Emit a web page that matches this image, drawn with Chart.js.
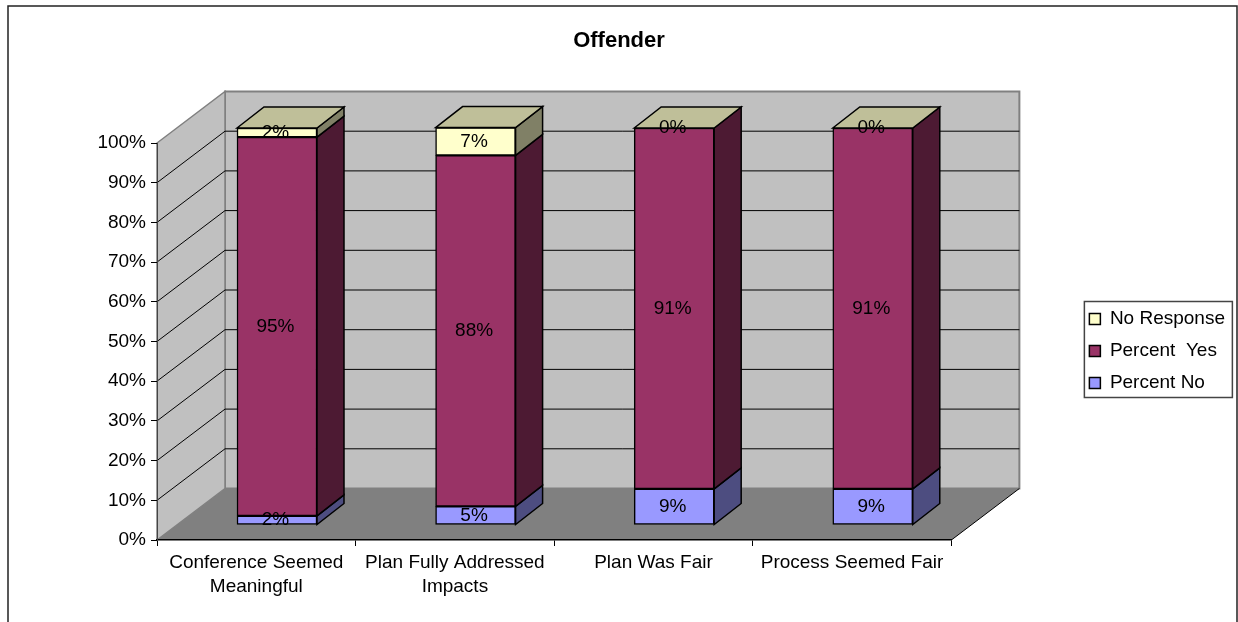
<!DOCTYPE html>
<html>
<head>
<meta charset="utf-8">
<title>Offender</title>
<script src="https://cdn.jsdelivr.net/npm/chart.js@4"></script>
<style>
    html, body { margin: 0; padding: 0; background: #fff; }
    canvas { display: block; }
</style>
</head>
<body>
<canvas id="chart" width="1238" height="622"></canvas>
<script>
const categories = [
    ['Conference Seemed', 'Meaningful'],
    ['Plan Fully Addressed', 'Impacts'],
    'Plan Was Fair',
    'Process Seemed Fair'
];
const percentNo = [2.3, 4.7, 9.1, 9.1];
const percentYes = [95.4, 88.4, 90.9, 90.9];
const noResponse = [2.3, 7.0, 0, 0];

const faceColors = ['#9999FF', '#993366', '#FFFFCC'];
const sideColors = ['#4D4D80', '#4D1A33', '#808066'];
const topColor = '#BFBF99';

const FONT = '"Liberation Sans", Arial, sans-serif';
const wallDepth = { x: 68, y: 51.5 };
const barShift = { x: 20.7, y: 15 };
const barDepth = { x: 27, y: 21 };

function poly(ctx, pts, fill, stroke, width) {
    ctx.beginPath();
    pts.forEach((p, i) => i ? ctx.lineTo(p[0], p[1]) : ctx.moveTo(p[0], p[1]));
    ctx.closePath();
    if (fill) {
        ctx.fillStyle = fill;
        ctx.fill();
    }
    if (stroke) {
        ctx.strokeStyle = stroke;
        ctx.lineWidth = width;
        ctx.stroke();
    }
}

const box3d = {
    id: 'box3d',
    afterLayout(chart) {
        // legend sits lower than the layout would put it
        const legend = chart.legend;
        legend.top += 40;
        legend.bottom += 40;
    },
    beforeDraw(chart) {
        const { ctx, chartArea: a, scales: { y } } = chart;
        const dx = wallDepth.x, dy = wallDepth.y;
        ctx.save();

        // outer frame, runs off the bottom of the picture
        ctx.beginPath();
        ctx.moveTo(8, 622);
        ctx.lineTo(8, 6);
        ctx.lineTo(1237, 6);
        ctx.lineTo(1237, 622);
        ctx.strokeStyle = '#222';
        ctx.lineWidth = 1.5;
        ctx.stroke();

        // back wall, side wall, floor
        poly(ctx, [[a.left + dx, a.top - dy], [a.right + dx, a.top - dy], [a.right + dx, a.bottom - dy], [a.left + dx, a.bottom - dy]], '#C0C0C0', '#808080', 2);
        poly(ctx, [[a.left, a.top], [a.left + dx, a.top - dy], [a.left + dx, a.bottom - dy], [a.left, a.bottom]], '#C0C0C0', '#808080', 1.5);
        poly(ctx, [[a.left, a.bottom], [a.left + dx, a.bottom - dy], [a.right + dx, a.bottom - dy], [a.right, a.bottom]], '#808080');

        ctx.beginPath();
        ctx.moveTo(a.right, a.bottom);
        ctx.lineTo(a.right + dx, a.bottom - dy);
        ctx.strokeStyle = '#000';
        ctx.lineWidth = 1;
        ctx.stroke();

        // gridlines run along the side wall and across the back
        y.ticks.forEach(t => {
            if (t.value === y.min || t.value === y.max) return;
            const py = y.getPixelForValue(t.value);
            ctx.beginPath();
            ctx.moveTo(a.left, py);
            ctx.lineTo(a.left + dx, py - dy);
            ctx.lineTo(a.right + dx, py - dy);
            ctx.strokeStyle = '#000';
            ctx.lineWidth = 1;
            ctx.stroke();
        });
        ctx.restore();
    },
    beforeDatasetsDraw(chart) {
        chart.ctx.save();
        chart.ctx.translate(barShift.x, -barShift.y);
    },
    afterDatasetsDraw(chart) {
        const ctx = chart.ctx;
        const dx = barDepth.x, dy = barDepth.y;
        const metas = chart.data.datasets.map((_, i) => chart.getDatasetMeta(i));

        metas.forEach((meta, d) => {
            meta.data.forEach(bar => {
                const right = bar.x + bar.width / 2;
                if (bar.base - bar.y > 0.1) {
                    poly(ctx, [[right, bar.y], [right + dx, bar.y - dy], [right + dx, bar.base - dy], [right, bar.base]], sideColors[d], '#000', 1.5);
                }
            });
        });

        // lid of each column
        metas[metas.length - 1].data.forEach(bar => {
            const left = bar.x - bar.width / 2;
            const right = bar.x + bar.width / 2;
            poly(ctx, [[left, bar.y], [left + dx, bar.y - dy], [right + dx, bar.y - dy], [right, bar.y]], topColor, '#000', 1.5);
        });

        // value labels
        ctx.fillStyle = '#000';
        ctx.font = '19px ' + FONT;
        ctx.textAlign = 'center';
        ctx.textBaseline = 'middle';
        metas.forEach((meta, d) => {
            meta.data.forEach((bar, i) => {
                const value = chart.data.datasets[d].data[i];
                ctx.fillText(Math.round(value) + '%', bar.x - 1.5, (bar.y + bar.base) / 2);
            });
        });
        ctx.restore();
    },
    afterDraw(chart) {
        // legend box
        const { ctx, legend } = chart;
        const hits = legend.legendHitBoxes;
        const last = hits[hits.length - 1];
        ctx.save();
        ctx.strokeStyle = '#444';
        ctx.lineWidth = 1.5;
        ctx.strokeRect(legend.left + 8, hits[0].top - 8, 148, last.top + last.height - hits[0].top + 13);
        ctx.restore();
    }
};

const ctx = document.getElementById('chart').getContext('2d');
new Chart(ctx, {
    type: 'bar',
    data: {
        labels: categories,
        datasets: [
            { label: 'Percent No', data: percentNo, backgroundColor: faceColors[0] },
            { label: 'Percent  Yes', data: percentYes, backgroundColor: faceColors[1] },
            { label: 'No Response', data: noResponse, backgroundColor: faceColors[2] }
        ]
    },
    options: {
        responsive: false,
        animation: false,
        layout: { padding: { left: 3, right: 3 } },
        datasets: {
            bar: {
                barThickness: 80,
                borderColor: '#000',
                borderWidth: 1.5,
                borderSkipped: false
            }
        },
        plugins: {
            title: {
                display: true,
                text: 'Offender',
                color: '#000',
                font: { family: FONT, size: 22, weight: 'bold', lineHeight: 1.2 },
                padding: { top: 28, bottom: 88.6 }
            },
            legend: {
                position: 'right',
                reverse: true,
                labels: {
                    color: '#000',
                    font: { family: FONT, size: 19 },
                    boxWidth: 11,
                    boxHeight: 11,
                    padding: 13
                }
            },
            tooltip: { enabled: false }
        },
        scales: {
            x: {
                stacked: true,
                afterFit: s => { s.height = 82; },
                grid: { drawOnChartArea: false, tickLength: 6, tickColor: '#000' },
                border: { color: '#000', width: 1.5 },
                ticks: {
                    color: '#000',
                    font: { family: FONT, size: 19, lineHeight: 1.26 },
                    padding: 5,
                    maxRotation: 0,
                    autoSkip: false
                }
            },
            y: {
                stacked: true,
                min: 0,
                max: 100,
                afterFit: s => { s.width = 154; },
                grid: { drawOnChartArea: false, tickLength: 6, tickColor: '#000' },
                border: { color: '#444', width: 1 },
                ticks: {
                    color: '#000',
                    stepSize: 10,
                    padding: 5,
                    font: { family: FONT, size: 19 },
                    callback: v => v + '%'
                }
            },
            // empty axis, only keeps the gap between the plot and the legend
            gap: {
                position: 'right',
                afterFit: s => { s.width = 125; },
                grid: { display: false },
                border: { display: false },
                ticks: { display: false }
            }
        }
    },
    plugins: [box3d]
});
</script>
</body>
</html>
